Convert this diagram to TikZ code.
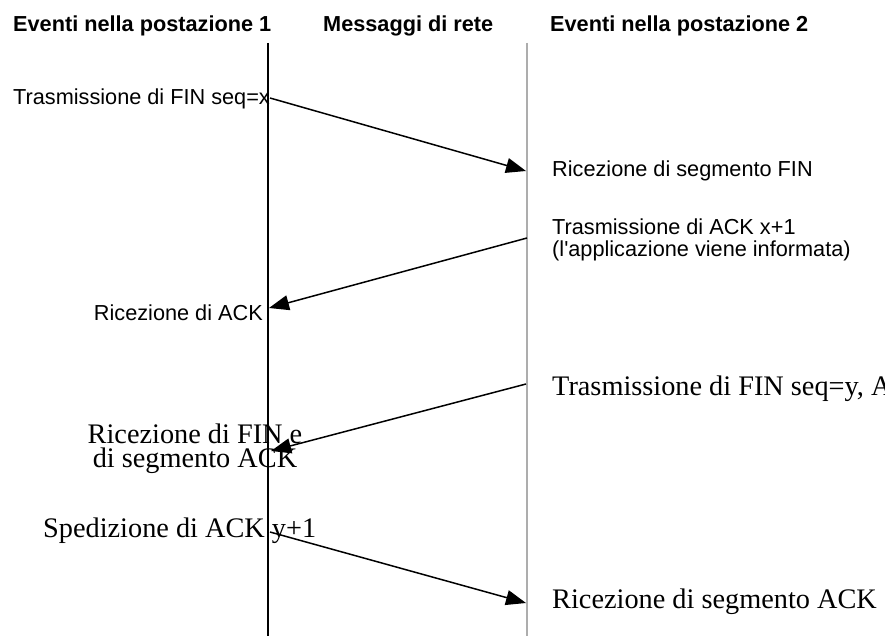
\documentclass[tikz,border=0pt]{standalone}
\usepackage{fontspec}
\setmainfont{Liberation Serif}
\newfontfamily\arialfont{Liberation Sans}
\usetikzlibrary{arrows.meta}
\begin{document}
\begin{tikzpicture}[x=1pt,y=-1pt,
  header/.style={font=\arialfont\bfseries\fontsize{21.7}{24}\selectfont, inner sep=0pt},
  sanslabel/.style={font=\arialfont\fontsize{21.7}{22}\selectfont, inner sep=0pt, align=left},
  seriflabel/.style={font=\fontsize{28.3}{23.5}\selectfont, inner sep=0pt},
  host1line/.style={line width=1.7pt, black},
  host2line/.style={line width=2pt, black!32},
  msg/.style={line width=1.5pt, -{Triangle[length=20pt,width=15pt]}}]
\useasboundingbox (0,0) rectangle (885,639);
\clip (0,0) rectangle (885,639);
\fill[white] (0,0) rectangle (885,639);

% column headers
\node[header, anchor=base west] (h1) at (13,32) {Eventi nella postazione 1};
\node[header, anchor=base west] (h2) at (323,32) {Messaggi di rete};
\node[header, anchor=base west] (h3) at (550,32) {Eventi nella postazione 2};

% lifelines of the two hosts
\coordinate (l1top) at (268,43);
\coordinate (l1bot) at (268,636);
\coordinate (l2top) at (527,43);
\coordinate (l2bot) at (527,636);
\draw[host2line] (l2top) -- (l2bot);
\draw[host1line] (l1top) -- (l1bot);

% message end points on the lifelines
\coordinate (a1s) at (270,98);
\coordinate (a1e) at (526,171);
\coordinate (a2s) at (527,238);
\coordinate (a2e) at (269,308);
\coordinate (a3s) at (526,384);
\coordinate (a3e) at (271,451);
\coordinate (a4s) at (270,532);
\coordinate (a4e) at (526,603);

% events at host 1
\node[sanslabel, anchor=base west] (e1) at (13,105) {Trasmissione di FIN seq=x};
\node[sanslabel, anchor=base east] (e2) at (263,320) {Ricezione di ACK};
\node[seriflabel, align=center, anchor=base] (e3) at (195,467) {Ricezione di FIN e\\di segmento ACK};
\node[seriflabel, anchor=base west] (e4) at (43,537) {Spedizione di ACK y+1};

% events at host 2
\node[sanslabel, anchor=base west] (f1) at (552,177) {Ricezione di segmento FIN};
\node[sanslabel, anchor=base west] (f2) at (552,256) {Trasmissione di ACK x+1\\(l'applicazione viene informata)};
\node[seriflabel, anchor=base west] (f3) at (552,395) {Trasmissione di FIN seq=y, ACK x+1};
\node[seriflabel, anchor=base west] (f4) at (552,608) {Ricezione di segmento ACK};

% network messages
\draw[msg] (a1s) -- (a1e);
\draw[msg] (a2s) -- (a2e);
\draw[msg] (a3s) -- (a3e);
\draw[msg] (a4s) -- (a4e);
\end{tikzpicture}
\end{document}
